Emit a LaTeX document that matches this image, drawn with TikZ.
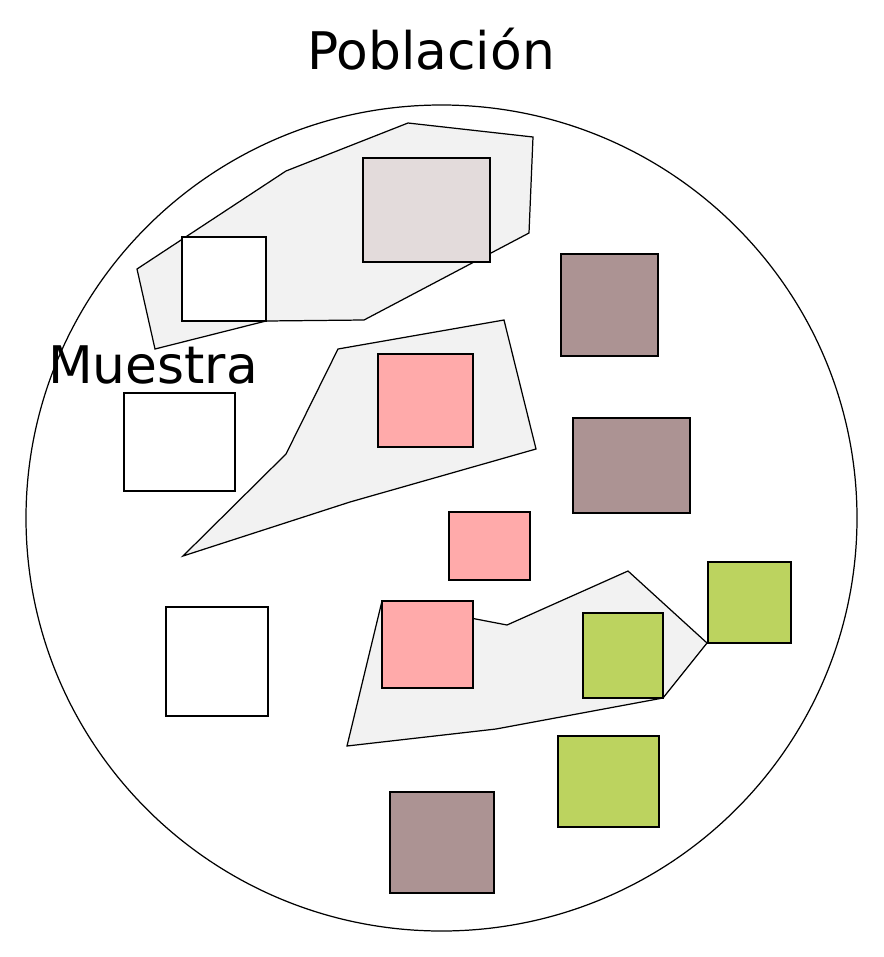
\documentclass[tikz,border=0pt]{standalone}
\usepackage{fontspec}
\setmainfont{DejaVu Sans}
\usepackage{tikz}
\usetikzlibrary{shapes}
\definecolor{grupogris}{HTML}{F2F2F2}
\definecolor{palido}{HTML}{E3DBDB}
\definecolor{marron}{HTML}{AC9393}
\definecolor{rosa}{HTML}{FFAAAA}
\definecolor{verde}{HTML}{BCD35F}
\tikzstyle{grupo} = [draw=black, fill=grupogris, line width=0.7pt, line join=miter]
\tikzstyle{caja} = [draw=black, line width=0.7pt]
\tikzstyle{rotulo} = [font=\fontsize{29.5}{34}\selectfont, anchor=base, inner sep=0]

\begin{document}
\begin{tikzpicture}[x=0.02cm, y=-0.02cm]
				\useasboundingbox (0, 0) rectangle (883, 957);

				\draw[caja, fill=white] (441.5, 518) ellipse [x radius=415.5, y radius=413];

				% grupos
				\draw[grupo] (137, 269) -- (286, 171) -- (408, 123) -- (533, 137) -- (529, 233)
					-- (364, 320) -- (266, 321) -- (155, 349) -- cycle;
				\draw[grupo] (338, 349) -- (504, 320) -- (536, 449) -- (350, 502)
					-- (183, 556) -- (286, 454) -- cycle;
				\draw[grupo] (382, 601) -- (507, 625) -- (628, 571) -- (707, 643)
					-- (663, 698) -- (496, 729) -- (347, 746) -- cycle;

				% blancos
				\draw[caja, fill=white] (182, 237) rectangle (266, 321);
				\draw[caja, fill=white] (124, 393) rectangle (235, 491);
				\draw[caja, fill=white] (166, 607) rectangle (268, 716);

				% palido
				\draw[caja, fill=palido] (363, 158) rectangle (490, 262);

				% marrones
				\draw[caja, fill=marron] (561, 254) rectangle (658, 356);
				\draw[caja, fill=marron] (573, 418) rectangle (690, 513);
				\draw[caja, fill=marron] (390, 792) rectangle (494, 893);

				% rosas
				\draw[caja, fill=rosa] (378, 354) rectangle (473, 447);
				\draw[caja, fill=rosa] (449, 512) rectangle (530, 580);
				\draw[caja, fill=rosa] (382, 601) rectangle (473, 688);

				% verdes
				\draw[caja, fill=verde] (583, 613) rectangle (663, 698);
				\draw[caja, fill=verde] (708, 562) rectangle (791, 643);
				\draw[caja, fill=verde] (558, 736) rectangle (659, 827);

				\node (Poblacion) [rotulo] at (431, 69) {Población};
				\node (Muestra) [rotulo] at (153, 383) {Muestra};
			\end{tikzpicture}
\end{document}
